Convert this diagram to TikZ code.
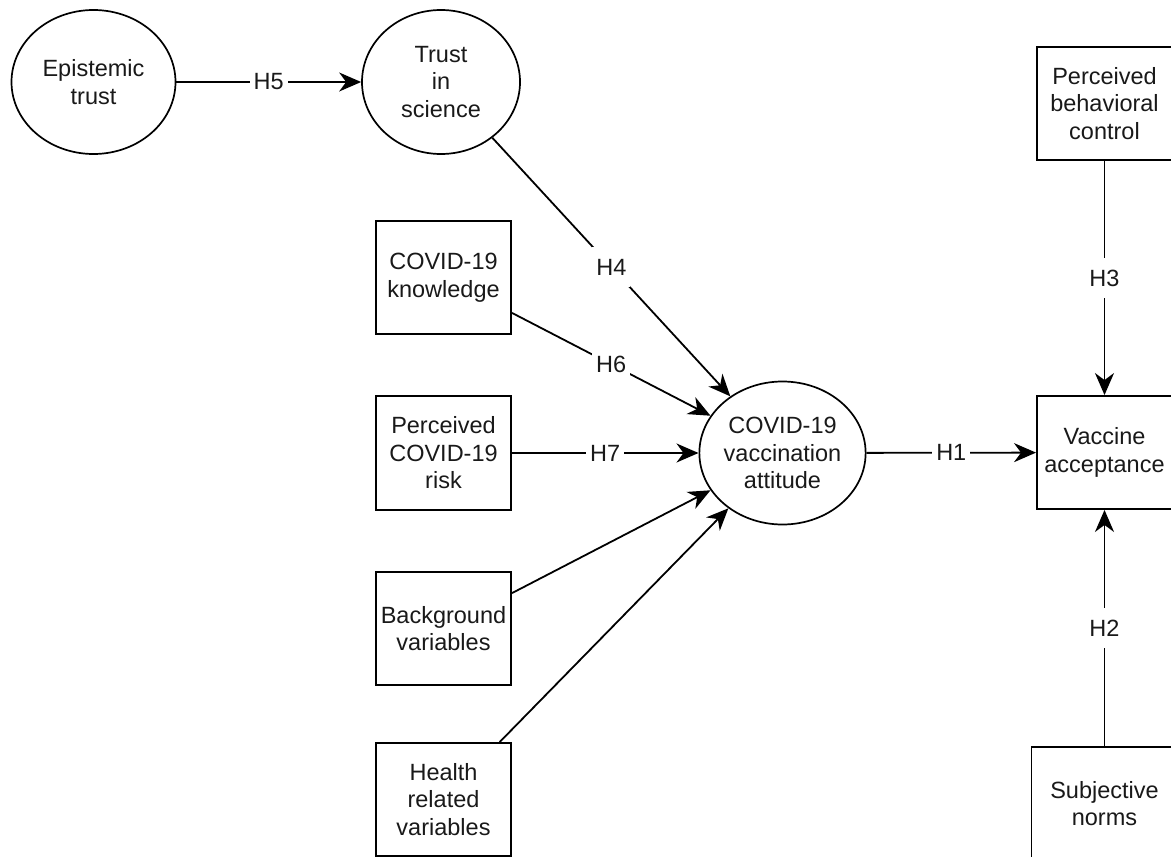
\documentclass[tikz,border=0pt]{standalone}
\usepackage{fontspec}
\setmainfont{Liberation Sans}
\usetikzlibrary{shapes.geometric,arrows.meta}
\begin{document}
\begin{tikzpicture}[x=1pt,y=-1pt,
  every node/.style={font=\fontsize{23.5}{27.5}\selectfont, align=center, text=black!90},
  oval/.style={draw, ellipse, line width=1.7pt, inner sep=0pt},
  box/.style={draw, rectangle, line width=1.9pt, inner sep=0pt, minimum width=135pt},
  link/.style={line width=1.8pt, -{Stealth[length=22pt,width=19pt,inset=7pt]}},
  lab/.style={fill=white, inner xsep=4pt, inner ysep=0pt, minimum height=40pt, font=\fontsize{23.5}{27}\selectfont}
]
\useasboundingbox (0,0) rectangle (1171,857);
% latent variables
\node[oval, minimum width=164pt, minimum height=144pt] (et) at (93.5,82) {Epistemic\\trust};
\node[oval, minimum width=158pt, minimum height=144pt] (ts) at (441,82) {Trust\\in\\science};
\node[oval, minimum width=163pt, minimum height=143pt] (att) at (782.5,453) {COVID-19\\vaccination\\attitude};
% left boxes
\node[box, minimum height=113pt] (kn) at (443.5,277.5) {COVID-19\\knowledge};
\node[box, minimum height=114pt] (risk) at (443.5,453) {Perceived\\COVID-19\\risk};
\node[box, minimum height=113pt] (bg) at (443.5,628.5) {Background\\variables};
\node[box, minimum height=113pt] (hr) at (443.5,799.5) {Health\\related\\variables};
% right boxes
\node[box, minimum height=113pt] (pbc) at (1104.5,103.5) {Perceived\\behavioral\\control};
\node[box, minimum height=113pt] (va) at (1104.5,452.5) {Vaccine\\acceptance};
\node[box, minimum width=146pt, minimum height=113pt] (sn) at (1104.5,803.5) {Subjective\\norms};
% connectors
\draw[link] (et) -- node[lab]{H5} (ts);
\draw[link] (ts) -- node[lab]{H4} (att);
\draw[link] (kn) -- node[lab]{H6} (att);
\draw[link] (risk) -- node[lab]{H7} (att);
\draw[link] (bg) -- (att);
\draw[link] (hr) -- (att);
\draw[link] (att) -- node[lab]{H1} (va);
\draw[link] (pbc) -- node[lab]{H3} (va);
\draw[link] (sn) -- node[lab]{H2} (va);
\end{tikzpicture}
\end{document}
